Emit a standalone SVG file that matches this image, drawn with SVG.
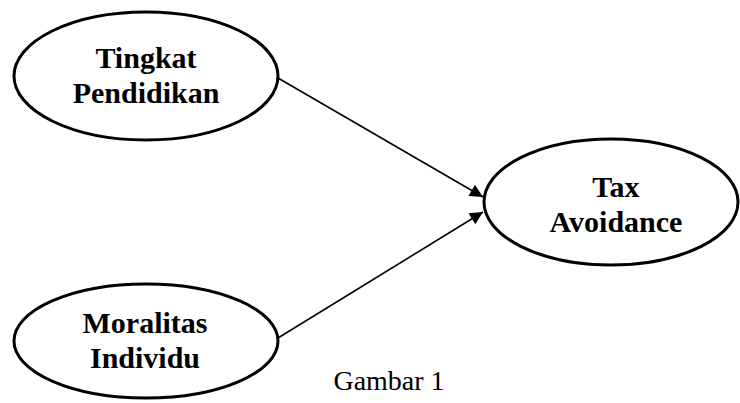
<svg xmlns="http://www.w3.org/2000/svg" width="740" height="403" viewBox="0 0 740 403">
<style>
.node{fill:#fff;stroke:#000;stroke-width:3}
.lbl{font-family:"Liberation Serif","Times New Roman",serif;font-weight:bold;font-size:30px;text-anchor:middle;fill:#000}
.cap{font-family:"Liberation Serif","Times New Roman",serif;font-size:28px;fill:#000}
.edge{stroke:#000;stroke-width:1.6;fill:none}
</style>
<defs>
<marker id="ah" viewBox="0 0 10 10" refX="10" refY="5" markerWidth="15" markerHeight="13" markerUnits="userSpaceOnUse" orient="auto">
<path d="M0,0 L10,5 L0,10 Z" fill="#000"/>
</marker>
</defs>
<rect width="740" height="403" fill="#fff"/>
<g id="connectors">
<line class="edge" x1="278" y1="78" x2="483" y2="197" marker-end="url(#ah)"/>
<line class="edge" x1="278" y1="338" x2="483" y2="212" marker-end="url(#ah)"/>
</g>
<g id="tingkat">
<ellipse class="node" cx="146" cy="76" rx="132" ry="64"/>
<text class="lbl" x="146" y="68">Tingkat</text>
<text class="lbl" x="146" y="103">Pendidikan</text>
</g>
<g id="moralitas">
<ellipse class="node" cx="146" cy="341" rx="132" ry="57"/>
<text class="lbl" x="145" y="333">Moralitas</text>
<text class="lbl" x="145" y="368">Individu</text>
</g>
<g id="tax">
<ellipse class="node" cx="611" cy="202" rx="127" ry="63"/>
<text class="lbl" x="616" y="197">Tax</text>
<text class="lbl" x="616" y="232">Avoidance</text>
</g>
<text class="cap" x="389" y="390" text-anchor="middle">Gambar 1</text>
</svg>
